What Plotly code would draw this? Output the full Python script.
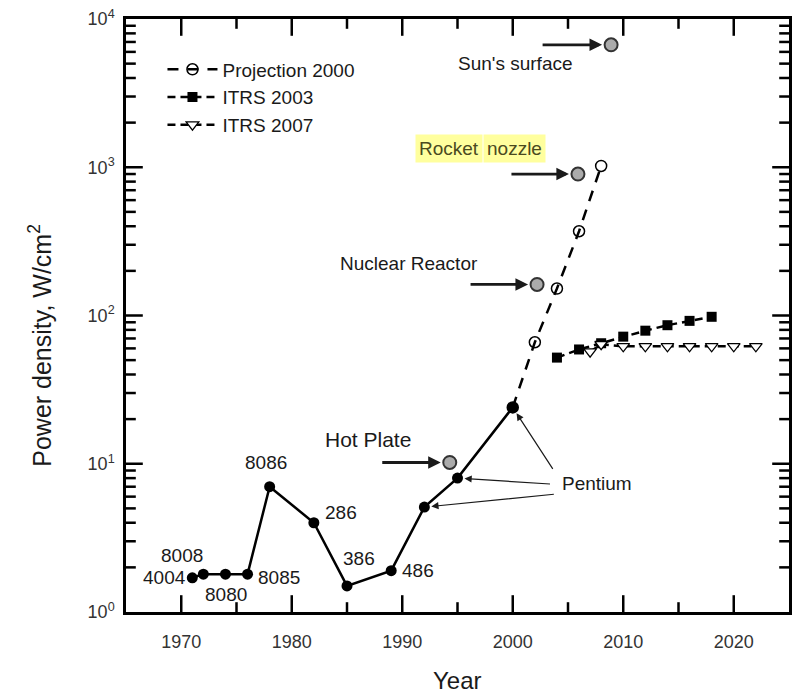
import math
import plotly.graph_objects as go

# ---------------- data ----------------
proc_year = [1971, 1972, 1974, 1976, 1978, 1982, 1985, 1989, 1992, 1995, 2000]
proc_power = [1.7, 1.8, 1.8, 1.8, 7.0, 4.0, 1.5, 1.9, 5.1, 8.0, 24]
proc_names = ["4004", "8008", "8080", "8085", "8086", "286", "386", "486",
              "Pentium", "Pentium", "Pentium"]

proj_year = [2000, 2002, 2004, 2006, 2008]
proj_power = [24, 66, 152, 370, 1020]

itrs03_year = [2004, 2006, 2008, 2010, 2012, 2014, 2016, 2018]
itrs03_power = [52, 59, 65, 72, 79, 86, 92, 98]

itrs07_year = [2007, 2008, 2010, 2012, 2014, 2016, 2018, 2020, 2022]
itrs07_power = [57, 64, 62, 62, 62, 62, 62, 62, 62]

ref_names = ["Hot Plate", "Nuclear Reactor", "Rocket nozzle", "Sun's surface"]
ref_year = [1994.3, 2002.2, 2005.9, 2008.9]
ref_power = [10.2, 162, 900, 6700]

x_ticks = [1970, 1980, 1990, 2000, 2010, 2020]
y_ticks = [1, 10, 100, 1000, 10000]
y_ticktext = ["10<sup>0</sup>", "10<sup>1</sup>", "10<sup>2</sup>",
              "10<sup>3</sup>", "10<sup>4</sup>"]

FONT = "Liberation Sans, Arial, sans-serif"
TXT = "#1a1a1a"
LBL = 19
X_RANGE = [1965, 2025]
Y_RANGE = [0, 4]
CLEAR = "rgba(0,0,0,0)"

x_minor = [t + 5 for t in x_ticks if t + 5 < X_RANGE[1]]
y_minor = [k * 10 ** n for n in range(Y_RANGE[0], Y_RANGE[1]) for k in range(2, 10)]
y_major_in = [v for v in y_ticks if 10 ** Y_RANGE[0] < v < 10 ** Y_RANGE[1]]

fig = go.Figure()

# inward tick marks on all four sides: line markers centred on the frame, clipped to the plot
def add_ticks(xs, ys, symbol, size):
    fig.add_trace(go.Scatter(
        x=xs, y=ys, mode="markers", showlegend=False, hoverinfo="skip", cliponaxis=True,
        marker=dict(symbol=symbol, size=size, color="black",
                    line=dict(color="black", width=2.5)),
    ))

y_lo, y_hi = 10 ** Y_RANGE[0], 10 ** Y_RANGE[1]
for vals, sz in ((x_ticks, 24), (x_minor, 14)):
    add_ticks(vals + vals, [y_lo] * len(vals) + [y_hi] * len(vals), "line-ns", sz)
for vals, sz in ((y_major_in, 24), (y_minor, 14)):
    add_ticks([X_RANGE[0]] * len(vals) + [X_RANGE[1]] * len(vals), vals + vals, "line-ew", sz)

fig.add_trace(go.Scatter(
    x=proj_year, y=proj_power, mode="lines+markers", name="Projection 2000",
    line=dict(color="black", width=2.5, dash="11px,9px"),
    marker=dict(symbol="circle-open", size=11, color="black", line=dict(width=1.5)),
))
fig.add_trace(go.Scatter(
    x=itrs03_year, y=itrs03_power, mode="lines+markers", name="ITRS 2003",
    line=dict(color="black", width=2.5, dash="8px,5px"),
    marker=dict(symbol="square", size=10, color="black"),
))
fig.add_trace(go.Scatter(
    x=itrs07_year, y=itrs07_power, mode="lines+markers", name="ITRS 2007",
    line=dict(color="black", width=2.5, dash="8px,5px"),
    marker=dict(symbol="triangle-down", size=11, color="white",
                line=dict(color="black", width=1.3)),
))
fig.add_trace(go.Scatter(
    x=proc_year, y=proc_power, mode="lines+markers", showlegend=False,
    line=dict(color="black", width=2.5),
    marker=dict(symbol="circle", size=11, color="black"),
))
fig.add_trace(go.Scatter(
    x=ref_year, y=ref_power, mode="markers", showlegend=False,
    marker=dict(symbol="circle", size=13, color="#ababab",
                line=dict(color="#333333", width=2)),
))

ann = []

# processor labels (pixel offsets from their points)
label_off = {"4004": (-28, 0), "8008": (-21, 19), "8080": (1, -20), "8085": (31, -3),
             "8086": (-4, 24), "286": (27, 10), "386": (12, 27), "486": (27, 0)}
for nm, xv, yv in zip(proc_names, proc_year, proc_power):
    if nm in label_off:
        dx, dy = label_off[nm]
        ann.append(dict(x=xv, y=math.log10(yv), text=nm, showarrow=False,
                        xshift=dx, yshift=dy, font=dict(size=LBL, color=TXT, family=FONT)))

# Pentium label and arrows
pent = [(x, y) for n, x, y in zip(proc_names, proc_year, proc_power) if n == "Pentium"]
p_arrow = [(131, -13), (94, 6), (41, 63)]
for (xv, yv), (ax, ay) in zip(pent, p_arrow):
    ann.append(dict(x=xv, y=math.log10(yv), ax=ax, ay=ay, showarrow=True, text="",
                    arrowhead=2, arrowsize=1.2, arrowwidth=1.2, arrowcolor=TXT, standoff=7))
ann.append(dict(x=pent[1][0], y=math.log10(pent[1][1]), text="Pentium", showarrow=False,
                xshift=139, yshift=-5, font=dict(size=LBL, color=TXT, family=FONT)))

# reference-object arrows and labels
ref_arrow = {"Hot Plate": -69, "Nuclear Reactor": -68, "Rocket nozzle": -68, "Sun's surface": -70}
ref_text = {"Hot Plate": (-82, 23, 21), "Nuclear Reactor": (-128, 21, LBL),
            "Sun's surface": (-96, -19, LBL)}
for nm, xv, yv in zip(ref_names, ref_year, ref_power):
    ann.append(dict(x=xv, y=math.log10(yv), ax=ref_arrow[nm], ay=0, showarrow=True, text="",
                    arrowhead=2, arrowsize=0.9, arrowwidth=2.8, arrowcolor=TXT, standoff=9))
    if nm in ref_text:
        dx, dy, fs = ref_text[nm]
        ann.append(dict(x=xv, y=math.log10(yv), text=nm, showarrow=False,
                        xshift=dx, yshift=dy, font=dict(size=fs, color=TXT, family=FONT)))
    else:
        # highlighted two-word label
        w1, w2 = nm.split(" ")
        for w, dx in ((w1, -129), (w2, -63)):
            ann.append(dict(x=xv, y=math.log10(yv), text=w, showarrow=False,
                            xshift=dx, yshift=26, bgcolor="#ffff9e", borderpad=3,
                            font=dict(size=LBL, color="#4a4a1e", family=FONT)))

# axis titles as annotations
ann.append(dict(x=0, y=0.449, xref="paper", yref="paper", xshift=-86, xanchor="center",
                yanchor="middle", text="Power density, W/cm<sup>2</sup>", textangle=-90,
                showarrow=False, font=dict(size=25, color=TXT, family=FONT)))
ann.append(dict(x=0.5, y=0, xref="paper", yref="paper", yshift=-68, xanchor="center",
                yanchor="middle", text="Year", showarrow=False,
                font=dict(size=24, color=TXT, family=FONT)))

fig.update_layout(
    width=799, height=694,
    margin=dict(l=126, r=7, t=18, b=82),
    paper_bgcolor="white", plot_bgcolor="white",
    font=dict(family=FONT, size=LBL, color=TXT),
    annotations=ann,
    legend=dict(x=0.055, y=0.947, xanchor="left", yanchor="top",
                bgcolor=CLEAR, font=dict(size=LBL, family=FONT, color=TXT),
                itemwidth=50, tracegroupgap=0),
    xaxis=dict(range=X_RANGE, tickvals=x_ticks, ticks="outside", ticklen=12,
               tickcolor=CLEAR, showline=True, linewidth=2.5, linecolor="black",
               mirror=True, showgrid=False, zeroline=False,
               tickfont=dict(size=18, color="#333333")),
    yaxis=dict(type="log", range=Y_RANGE, tickvals=y_ticks, ticktext=y_ticktext,
               ticks="outside", ticklen=5, tickcolor=CLEAR,
               showline=True, linewidth=2.5, linecolor="black", mirror=True,
               showgrid=False, zeroline=False, tickfont=dict(size=18, color="#333333")),
)

fig.write_html("out.html")
